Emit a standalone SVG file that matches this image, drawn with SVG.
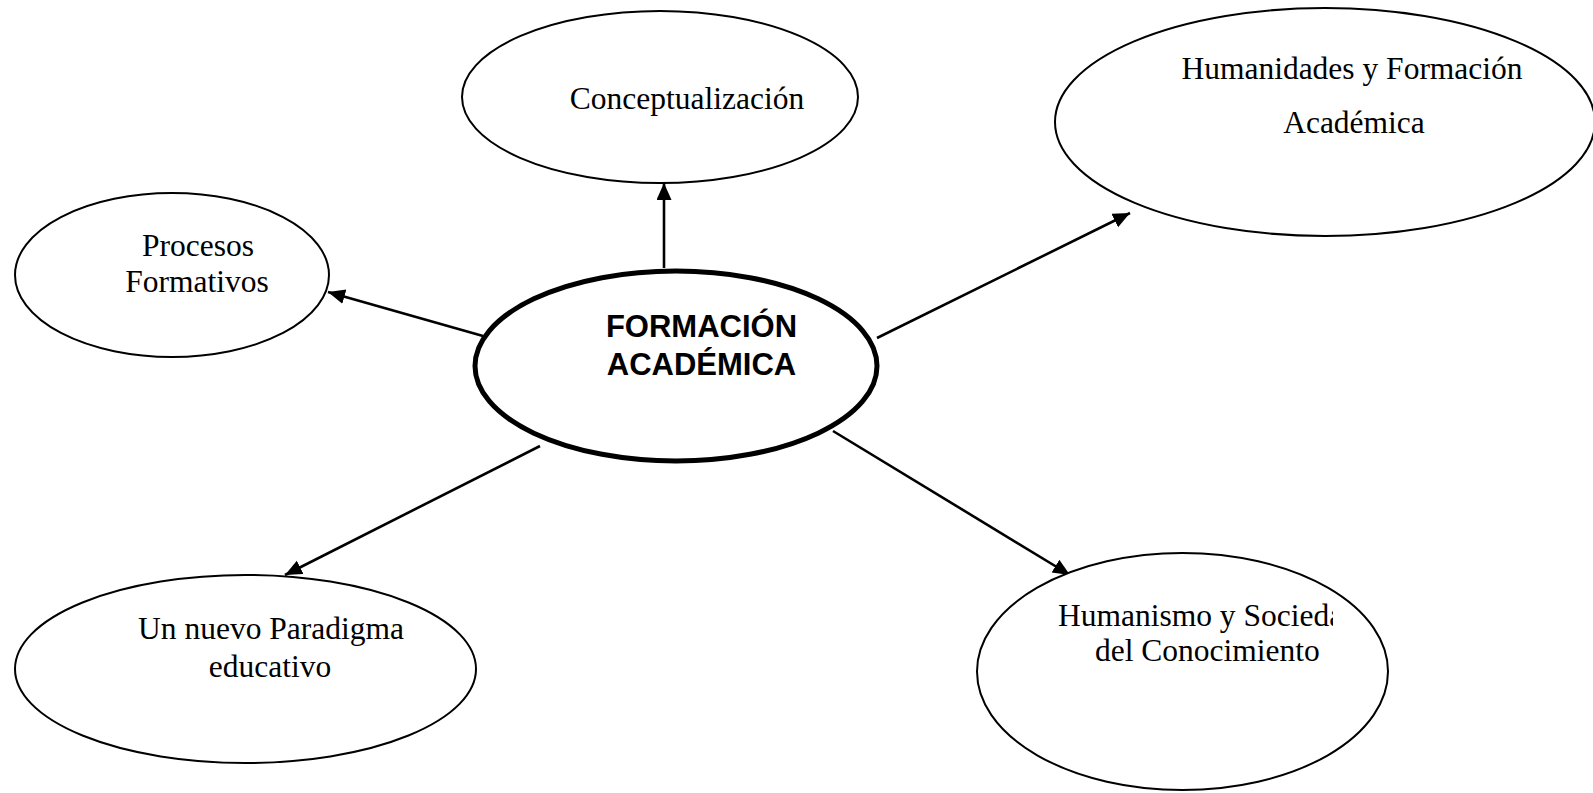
<svg xmlns="http://www.w3.org/2000/svg" width="1593" height="793" viewBox="0 0 1593 793">
<style>
.n{fill:#fff;stroke:#000;stroke-width:2}
.t{font-family:"Liberation Serif","Times New Roman",serif;font-size:31.5px;fill:#000}
.c{text-anchor:middle}
.hub{fill:#fff;stroke:#000;stroke-width:5}
.ht{font-family:"Liberation Sans",Arial,sans-serif;font-size:31px;font-weight:bold;fill:#000;text-anchor:middle}
.e{stroke:#000;stroke-width:2.6;fill:none;marker-end:url(#ah)}
</style>
<defs>
<marker id="ah" markerUnits="userSpaceOnUse" markerWidth="18" markerHeight="16" refX="17" refY="7.5" orient="auto">
<path d="M0,0 L17,7.5 L0,15 z" fill="#000"/>
</marker>
<clipPath id="hclip"><rect x="0" y="0" width="1333" height="793"/></clipPath>
</defs>
<rect width="1593" height="793" fill="#fff"/>
<g id="connectors">
<line class="e" x1="664" y1="268" x2="664" y2="183"/>
<line class="e" x1="483" y1="336" x2="328" y2="292"/>
<line class="e" x1="877" y1="338" x2="1130" y2="213"/>
<line class="e" x1="540" y1="446" x2="285" y2="575"/>
<line class="e" x1="833" y1="431" x2="1070" y2="575"/>
</g>
<g id="conceptualizacion">
<ellipse class="n" cx="660" cy="97" rx="198" ry="86"/>
<text class="t c" x="687" y="109">Conceptualización</text>
</g>
<g id="humanidades">
<ellipse class="n" cx="1325" cy="122" rx="270" ry="114"/>
<text class="t c" x="1352" y="79">Humanidades y Formación</text>
<text class="t c" x="1354" y="133">Académica</text>
</g>
<g id="procesos">
<ellipse class="n" cx="172" cy="275" rx="157" ry="82"/>
<text class="t c" x="198" y="256">Procesos</text>
<text class="t c" x="197" y="292">Formativos</text>
</g>
<g id="paradigma">
<ellipse class="n" cx="245.5" cy="669" rx="230.5" ry="94"/>
<text class="t c" x="271" y="639">Un nuevo Paradigma</text>
<text class="t c" x="270" y="677">educativo</text>
</g>
<g id="humanismo">
<ellipse class="n" cx="1182.5" cy="671.5" rx="205.5" ry="118.5"/>
<text class="t" x="1058" y="626" clip-path="url(#hclip)">Humanismo y Socieda</text>
<text class="t" x="1095" y="661">del Conocimiento</text>
</g>
<g id="formacion">
<ellipse class="hub" cx="676" cy="366" rx="201" ry="95"/>
<text class="ht" x="701.5" y="337">FORMACIÓN</text>
<text class="ht" x="701.5" y="375">ACADÉMICA</text>
</g>
</svg>
